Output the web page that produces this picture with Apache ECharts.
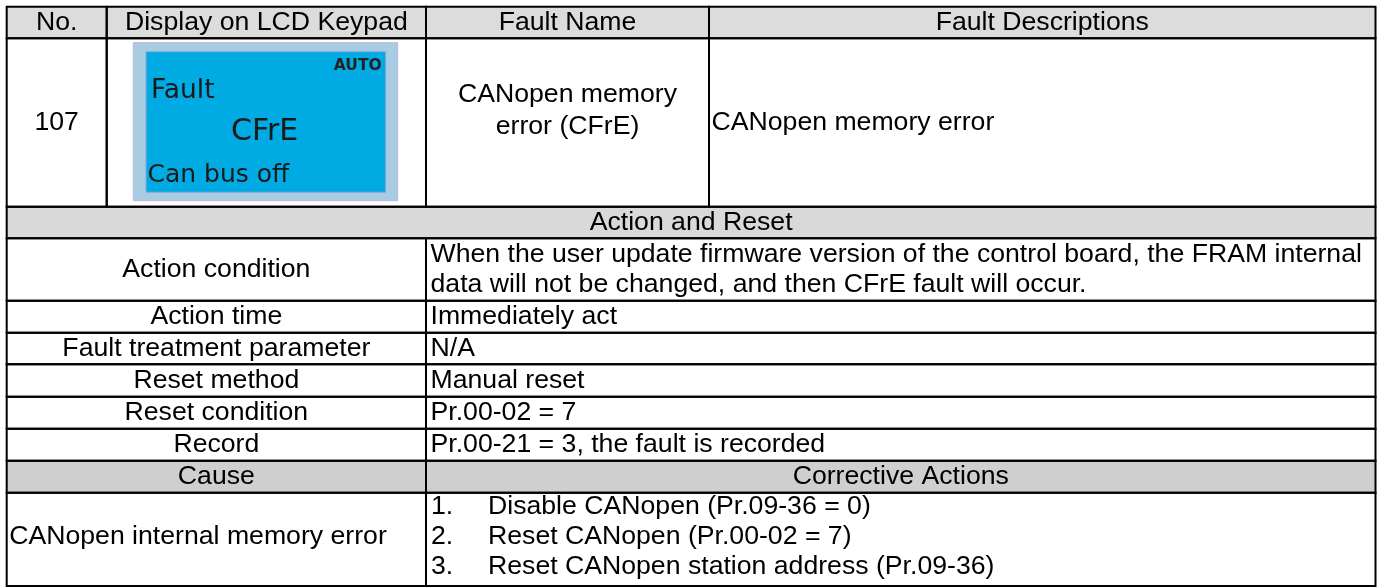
<!DOCTYPE html>
<html>
<head>
<meta charset="utf-8">
<script src="https://cdn.jsdelivr.net/npm/echarts@6/dist/echarts.min.js"></script>
<style>
html,body{margin:0;padding:0;background:#ffffff;}
#chart{width:1383px;height:587px;}
</style>
</head>
<body>
<div id="chart"></div>
<script>
// ---------------- table content ----------------
const headers = ['No.', 'Display on LCD Keypad', 'Fault Name', 'Fault Descriptions'];
const faultNo = '107';
const lcdMode = 'AUTO';
const lcdLines = ['Fault', 'CFrE', 'Can bus off'];
const faultName = ['CANopen memory', 'error (CFrE)'];
const faultDescription = 'CANopen memory error';
const sectionTitle = 'Action and Reset';
const actionLabels = ['Action condition', 'Action time', 'Fault treatment parameter', 'Reset method', 'Reset condition', 'Record'];
const actionValues = [
  ['When the user update firmware version of the control board, the FRAM internal', 'data will not be changed, and then CFrE fault will occur.'],
  ['Immediately act'],
  ['N/A'],
  ['Manual reset'],
  ['Pr.00-02 = 7'],
  ['Pr.00-21 = 3, the fault is recorded']
];
const causeHeaders = ['Cause', 'Corrective Actions'];
const causes = ['CANopen internal memory error'];
const correctiveActions = ['Disable CANopen (Pr.09-36 = 0)', 'Reset CANopen (Pr.00-02 = 7)', 'Reset CANopen station address (Pr.09-36)'];

// ---------------- layout (table units = pixels of the page) ----------------
const W = 1383, H = 587;
const colX = [6.7, 106.7, 426, 709, 1375.5];
const rowY = [6.7, 38.3, 206.7, 238.3, 300.7, 332.7, 364.3, 396.7, 428.7, 460.7, 492.7, 586];
const FONT = '"Liberation Sans", Arial, sans-serif';
const LCD_FONT = '"DejaVu Sans", sans-serif';
const FS = 26.65, LH = 30.5;
const GRAY_HEAD = '#dcdcdc', GRAY_SECTION = '#d9d9d9', GRAY_CAUSE = '#d0cfd0';
const LCD_OUTER = [133.3, 42.7, 397.7, 200.7];
const LCD_INNER = [146, 51.7, 385.7, 192.3];

const cells = [];
function addCell(x0, x1, y0, y1, fill) {
  const c = { x0, x1, y0, y1, fill, texts: [], shapes: [] };
  cells.push(c);
  return c;
}
function linesAt(c, lines, x, yc, align, lh) {
  const n = lines.length;
  lines.forEach((t, i) => {
    c.texts.push({ t, x, y: yc + (i - (n - 1) / 2) * (lh || LH), align });
  });
}
const mid = (a, b) => (a + b) / 2;

// header row
headers.forEach((h, i) => {
  const c = addCell(colX[i], colX[i + 1], rowY[0], rowY[1], GRAY_HEAD);
  linesAt(c, [h], mid(colX[i], colX[i + 1]), mid(rowY[0], rowY[1]) + 0.5, 'center');
});
// fault row
{
  const c0 = addCell(colX[0], colX[1], rowY[1], rowY[2], '#ffffff');
  linesAt(c0, [faultNo], mid(colX[0], colX[1]), mid(rowY[1], rowY[2]), 'center');
  const c1 = addCell(colX[1], colX[2], rowY[1], rowY[2], '#ffffff');
  c1.shapes.push({ r: LCD_OUTER, fill: '#a8cce1', stroke: '#b9b6de', lw: 1 });
  c1.shapes.push({ r: LCD_INNER, fill: '#00abe3', stroke: '#95a6da', lw: 1 });
  c1.texts.push({ t: lcdMode, x: LCD_INNER[2] - 4, y: 66.2, align: 'right', fs: 15.5, ff: LCD_FONT, fw: 'bold', color: '#222222' });
  c1.texts.push({ t: lcdLines[0], x: 151, y: 91, align: 'left', fs: 26.5, ff: LCD_FONT, color: '#1a1a1a' });
  c1.texts.push({ t: lcdLines[1], x: 231, y: 132.7, align: 'left', fs: 30, ff: LCD_FONT, color: '#1a1a1a' });
  c1.texts.push({ t: lcdLines[2], x: 147.5, y: 175.5, align: 'left', fs: 25, ff: LCD_FONT, color: '#1a1a1a' });
  const c2 = addCell(colX[2], colX[3], rowY[1], rowY[2], '#ffffff');
  linesAt(c2, faultName, mid(colX[2], colX[3]), 110.5, 'center', 32.5);
  const c3 = addCell(colX[3], colX[4], rowY[1], rowY[2], '#ffffff');
  linesAt(c3, [faultDescription], colX[3] + 2.5, mid(rowY[1], rowY[2]), 'left');
}
// section title
{
  const c = addCell(colX[0], colX[4], rowY[2], rowY[3], GRAY_SECTION);
  linesAt(c, [sectionTitle], mid(colX[0], colX[4]), mid(rowY[2], rowY[3]) + 0.5, 'center');
}
// action rows
actionLabels.forEach((lab, i) => {
  const y0 = rowY[3 + i], y1 = rowY[4 + i];
  const a = addCell(colX[0], colX[2], y0, y1, '#ffffff');
  linesAt(a, [lab], mid(colX[0], colX[2]), mid(y0, y1), 'center');
  const b = addCell(colX[2], colX[4], y0, y1, '#ffffff');
  linesAt(b, actionValues[i], colX[2] + 4.5, mid(y0, y1), 'left');
});
// cause header
{
  const a = addCell(colX[0], colX[2], rowY[9], rowY[10], GRAY_CAUSE);
  linesAt(a, [causeHeaders[0]], mid(colX[0], colX[2]), mid(rowY[9], rowY[10]), 'center');
  const b = addCell(colX[2], colX[4], rowY[9], rowY[10], GRAY_CAUSE);
  linesAt(b, [causeHeaders[1]], mid(colX[2], colX[4]), mid(rowY[9], rowY[10]), 'center');
}
// cause / corrective row
{
  const yc = mid(rowY[10], rowY[11]) - 3;
  const a = addCell(colX[0], colX[2], rowY[10], rowY[11], '#ffffff');
  linesAt(a, causes, colX[0] + 2.5, yc, 'left');
  const b = addCell(colX[2], colX[4], rowY[10], rowY[11], '#ffffff');
  linesAt(b, correctiveActions.map((_, i) => (i + 1) + '.'), colX[2] + 5, yc, 'left', 30);
  linesAt(b, correctiveActions, colX[2] + 62, yc, 'left', 30);
}

const chart = echarts.init(document.getElementById('chart'), null, { renderer: 'canvas' });
chart.setOption({
  animation: false,
  backgroundColor: '#ffffff',
  grid: { left: 0, right: 0, top: 0, bottom: 0 },
  xAxis: { type: 'value', min: 0, max: W, show: false },
  yAxis: { type: 'value', min: 0, max: H, inverse: true, show: false },
  series: [
    {
      type: 'custom',
      name: 'cells',
      silent: true,
      clip: false,
      data: cells.map((c, i) => [i]),
      renderItem: function (params, api) {
        const c = cells[params.dataIndex];
        const p0 = api.coord([c.x0, c.y0]), p1 = api.coord([c.x1, c.y1]);
        const children = [{
          type: 'rect',
          shape: { x: p0[0], y: p0[1], width: p1[0] - p0[0], height: p1[1] - p0[1] },
          style: { fill: c.fill }
        }];
        c.shapes.forEach(s => {
          const a = api.coord([s.r[0], s.r[1]]), b = api.coord([s.r[2], s.r[3]]);
          children.push({
            type: 'rect',
            shape: { x: a[0], y: a[1], width: b[0] - a[0], height: b[1] - a[1] },
            style: { fill: s.fill, stroke: s.stroke, lineWidth: s.lw }
          });
        });
        c.texts.forEach(t => {
          const p = api.coord([t.x, t.y]);
          children.push({
            type: 'text',
            style: {
              text: t.t, x: p[0], y: p[1],
              align: t.align, verticalAlign: 'middle',
              fill: t.color || '#000000',
              fontSize: t.fs || FS,
              fontFamily: t.ff || FONT,
              fontWeight: t.fw || 'normal'
            }
          });
        });
        return { type: 'group', children };
      }
    },
    {
      type: 'custom',
      name: 'borders',
      silent: true,
      clip: false,
      z: 5,
      data: cells.map((c, i) => [i]),
      renderItem: function (params, api) {
        const c = cells[params.dataIndex];
        const p0 = api.coord([c.x0, c.y0]), p1 = api.coord([c.x1, c.y1]);
        return {
          type: 'rect',
          shape: { x: p0[0], y: p0[1], width: p1[0] - p0[0], height: p1[1] - p0[1] },
          style: { fill: 'none', stroke: '#000000', lineWidth: 2 }
        };
      }
    }
  ]
});
</script>
</body>
</html>
